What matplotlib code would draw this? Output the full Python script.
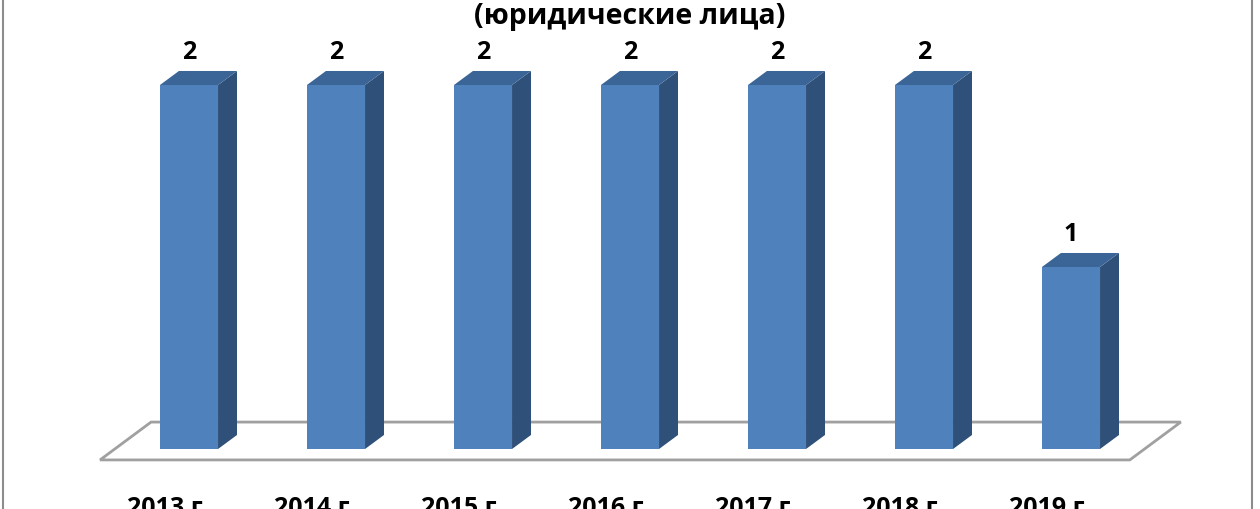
import matplotlib
matplotlib.use("Agg")
import matplotlib.pyplot as plt
from matplotlib.patches import Polygon
from matplotlib.lines import Line2D

plt.rcParams['font.family'] = ['Open Sans', 'DejaVu Sans']

# data
years = ['2013 г.', '2014 г.', '2015 г.', '2016 г.', '2017 г.', '2018 г.', '2019 г.']
values = [2, 2, 2, 2, 2, 2, 1]
title = '(юридические лица)'

# colours
front_c = '#4F81BD'
side_c = '#2F5078'
top_c = '#3C6597'
floor_c = '#A0A0A0'

# geometry in data units (category step = 1)
bar_w = 0.395
dx, dy = 0.129, 0.077
fl_front, fl_back = -0.060, 0.148
fl_shift = 0.347

fig = plt.figure(figsize=(12.6, 5.1), dpi=100)
ax = fig.add_axes([0, 0, 1, 1])
ax.set_xlim(-189 / 147, (1260 - 189) / 147)
ax.set_ylim(-60 / 182, 450 / 182)
ax.axis('off')

n = len(values)
# floor
x0 = -0.5 - 0.105
x1 = n - 0.5 - 0.1
floor = Polygon([(x0, fl_front), (x1, fl_front), (x1 + fl_shift, fl_back),
                 (x0 + fl_shift, fl_back)], closed=True, fill=False,
                edgecolor=floor_c, lw=2, zorder=1)
ax.add_patch(floor)

for i, v in enumerate(values):
    l = i - bar_w / 2
    r = i + bar_w / 2
    ax.add_patch(Polygon([(l, 0), (r, 0), (r, v), (l, v)], closed=True,
                         facecolor=front_c, edgecolor='none', zorder=3))
    ax.add_patch(Polygon([(r, 0), (r + dx, dy), (r + dx, v + dy), (r, v)],
                         closed=True, facecolor=side_c, edgecolor='none', zorder=3))
    ax.add_patch(Polygon([(l, v), (r, v), (r + dx, v + dy), (l + dx, v + dy)],
                         closed=True, facecolor=top_c, edgecolor='none', zorder=3))
    ax.annotate(str(v), xy=(i, v + dy), xytext=(0, 7), textcoords='offset pixels',
                ha='center', va='bottom', fontsize=18, fontweight='bold')
    ax.annotate(years[i], xy=(i, 0), xytext=(-21, -46), textcoords='offset pixels',
                ha='center', va='top', fontsize=18, fontweight='bold')

fig.text(0.5, 1 - 2 / 510, title, ha='center', va='top', fontsize=20.5, fontweight='bold')

# chart frame
fig.add_artist(Line2D([3 / 1260, 3 / 1260], [0, 1], color='#8C8C8C', lw=1.5))
fig.add_artist(Line2D([1252 / 1260, 1252 / 1260], [0, 1], color='#8C8C8C', lw=1.5))

fig.savefig('out.png', dpi=100)
